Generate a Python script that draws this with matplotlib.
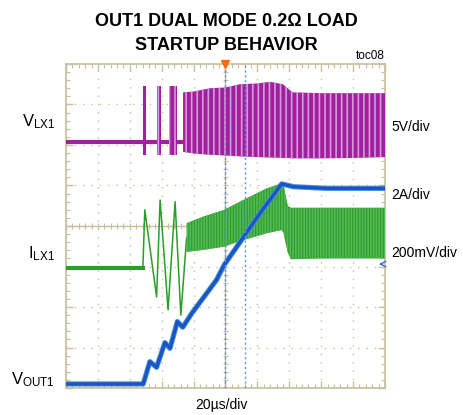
import numpy as np
from matplotlib import pyplot as plt

# scope screen, time and level both in divisions (20us/div, 10 x 8 divs)
# VLX1 switch node (purple)
vlx_base = 6.07
vlx_bursts = [(2.40, 2.51), (2.84, 2.97), (3.23, 3.48)]
vlx_burst_top = 7.45
vlx_burst_bot = 5.75
vlx_env_x = [3.67, 4.0, 4.5, 5.0, 5.45, 6.0, 6.4, 6.8, 6.95, 7.1, 8.0, 9.0, 10.0]
vlx_env_top = [7.30, 7.32, 7.40, 7.42, 7.50, 7.52, 7.56, 7.50, 7.40, 7.30, 7.28, 7.28, 7.28]
vlx_env_bot = [5.83, 5.79, 5.76, 5.74, 5.72, 5.70, 5.69, 5.68, 5.68, 5.67, 5.67, 5.68, 5.70]

# ILX1 inductor current (green)
ilx_x = [0.0, 2.41, 2.47, 2.84, 2.95, 3.20, 3.42, 3.60, 3.78]
ilx_y = [2.96, 2.96, 4.40, 2.25, 4.64, 1.93, 4.60, 1.80, 3.70]
ilx_env_x = [3.78, 4.3, 4.96, 5.55, 6.29, 6.75, 6.81, 6.95, 7.05, 8.0, 9.0, 10.0]
ilx_env_top = [4.07, 4.23, 4.40, 4.64, 4.93, 5.05, 5.05, 4.50, 4.45, 4.45, 4.45, 4.45]
ilx_env_bot = [3.36, 3.41, 3.49, 3.65, 3.82, 3.90, 3.85, 3.35, 3.18, 3.20, 3.20, 3.20]

# VOUT1 output voltage (blue)
vout_x = [0.0, 2.42, 2.63, 2.84, 3.10, 3.26, 3.49, 3.66, 3.94, 4.72, 4.96, 6.08, 6.76, 7.13, 8.17, 10.0]
vout_y = [0.10, 0.10, 0.65, 0.51, 1.12, 0.98, 1.64, 1.50, 1.84, 2.67, 3.04, 4.31, 5.04, 4.97, 4.93, 4.93]

cursor_x = [4.98, 5.61]
trig_x = 4.98

grid_col = '#c8bf9c'
purple = '#a0209f'
green = '#2a9d2a'
blue = '#1a55c0'

plt.rcParams['font.family'] = ['Liberation Sans', 'DejaVu Sans']
plt.rcParams['hatch.linewidth'] = 1.2

fig = plt.figure(figsize=(4.64, 4.15), dpi=100)
ax = fig.add_axes([66/464, 1-388/415, 319/464, 324/415])
ax.set_xlim(0, 10)
ax.set_ylim(0, 8)

# graticule
ax.set_xticks(np.arange(0, 11, 1))
ax.set_yticks(np.arange(0, 9, 1))
ax.set_xticks(np.arange(0, 10.01, 0.2), minor=True)
ax.set_yticks(np.arange(0, 8.01, 0.2), minor=True)
ax.tick_params(which='both', direction='in', top=True, right=True,
               labelbottom=False, labelleft=False, color=grid_col)
ax.tick_params(which='major', length=5, width=1)
ax.tick_params(which='minor', length=3, width=0.8)
ax.grid(which='major', color=grid_col, linestyle=(0, (1, 5)), linewidth=1)
for s in ax.spines.values():
    s.set_color(grid_col)
    s.set_linewidth(1.2)
ax.axhline(4, color=grid_col, lw=1)
ax.axvline(5, color=grid_col, lw=1)
tx = np.arange(0, 10.01, 0.2)
ty = np.arange(0, 8.01, 0.2)
ax.vlines(tx, 4 - 0.07, 4 + 0.07, color=grid_col, lw=0.8)
ax.hlines(ty, 5 - 0.09, 5 + 0.09, color=grid_col, lw=0.8)

# VLX1
ax.plot([0, 10], [vlx_base, vlx_base], color=purple, lw=3, zorder=3)
for x0, x1 in vlx_bursts:
    ax.fill_between([x0, x1], vlx_burst_bot, vlx_burst_top, facecolor=purple,
                    edgecolor='#d59ad8', hatch='|||', lw=0, zorder=3)
ax.fill_between(vlx_env_x, vlx_env_bot, vlx_env_top, facecolor=purple,
                edgecolor='#d59ad8', hatch='|||', lw=0, zorder=3)

# ILX1
ax.plot(ilx_x, ilx_y, color=green, lw=1.1, zorder=4)
ax.plot(ilx_x[:2], ilx_y[:2], color=green, lw=3, zorder=4)
ax.fill_between(ilx_env_x, ilx_env_bot, ilx_env_top, facecolor=green,
                edgecolor='#55b855', hatch='||||||', lw=0, zorder=4)

# VOUT1
ax.plot(vout_x, vout_y, color='#4a90e0', lw=3.8, zorder=5, solid_capstyle='butt')
ax.plot(vout_x, vout_y, color=blue, lw=2.4, zorder=6, solid_capstyle='butt')

# cursors and markers
for cx in cursor_x:
    ax.axvline(cx, color='#5b8fe0', lw=1, linestyle=(0, (1.5, 2)), zorder=7)
ax.plot([trig_x], [8.0], marker='v', color='#ff6a10', markersize=6, clip_on=False, zorder=8)
ax.annotate('', xy=(9.72, 3.06), xytext=(10.0, 3.06),
            arrowprops=dict(arrowstyle='->', color='#3070d0', lw=1), zorder=8)

# labels
fig.text(226/464, 1-21/415, 'OUT1 DUAL MODE 0.2Ω LOAD', ha='center', va='center',
         fontsize=13, fontweight='bold')
fig.text(226/464, 1-45/415, 'STARTUP BEHAVIOR', ha='center', va='center',
         fontsize=13, fontweight='bold')
fig.text(385/464, 1-56/415, 'toc08', ha='right', va='center', fontsize=8.5)

fig.text(55/464, 1-122/415, r'$\mathregular{V_{LX1}}$', ha='right', va='center', fontsize=12)
fig.text(55/464, 1-254/415, r'$\mathregular{I_{LX1}}$', ha='right', va='center', fontsize=12)
fig.text(55/464, 1-380/415, r'$\mathregular{V_{OUT1}}$', ha='right', va='center', fontsize=12)

fig.text(391/464, 1-127/415, '5V/div', ha='left', va='center', fontsize=10)
fig.text(391/464, 1-195/415, '2A/div', ha='left', va='center', fontsize=10)
fig.text(391/464, 1-253/415, '200mV/div', ha='left', va='center', fontsize=10)
fig.text(221/464, 1-405/415, '20µs/div', ha='center', va='center', fontsize=10)

fig.savefig('out.png', dpi=100)
